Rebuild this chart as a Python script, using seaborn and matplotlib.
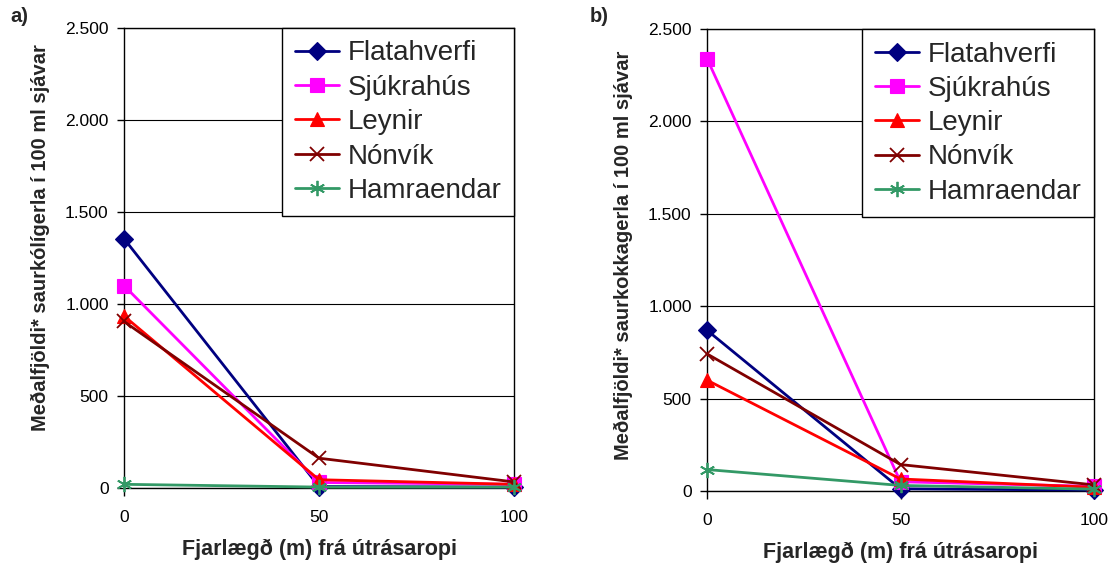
import matplotlib
matplotlib.use("Agg")
import matplotlib.pyplot as plt
import seaborn as sns
import pandas as pd
from matplotlib.ticker import FuncFormatter

sns.set_style("white")
plt.rcParams['font.family'] = ['Liberation Sans', 'DejaVu Sans']

distances = [0, 50, 100]
sites = ["Flatahverfi", "Sjúkrahús", "Leynir", "Nónvík", "Hamraendar"]

# panel a) saurkólígerlar
a_flatahverfi = [1355, 8, 5]
a_sjukrahus = [1100, 30, 20]
a_leynir = [935, 45, 20]
a_nonvik = [905, 162, 33]
a_hamraendar = [20, 5, 5]

# panel b) saurkokkagerlar
b_flatahverfi = [870, 12, 5]
b_sjukrahus = [2340, 50, 25]
b_leynir = [600, 65, 20]
b_nonvik = [742, 143, 33]
b_hamraendar = [116, 30, 10]

yticks = [0, 500, 1000, 1500, 2000, 2500]
xticks = [0, 50, 100]

colors = ["#000080", "#FF00FF", "#FF0000", "#800000", "#339966"]
markers = ["D", "s", "^", "x", (6, 2, 0)]
msizes = [9, 10.5, 10, 10, 11]

panels = [
    ("a)", "Meðalfjöldi* saurkólígerla í 100 ml sjávar",
     [a_flatahverfi, a_sjukrahus, a_leynir, a_nonvik, a_hamraendar]),
    ("b)", "Meðalfjöldi* saurkokkagerla í 100 ml sjávar",
     [b_flatahverfi, b_sjukrahus, b_leynir, b_nonvik, b_hamraendar]),
]

fig = plt.figure(figsize=(11.13, 5.67), dpi=100)
rects = [(124, 28, 514, 488), (707, 29, 1094, 491)]
W, H = 1113, 567
label_pos = [(10, 17), (590, 17)]
ylab_y = [0.545, 0.51]

for (tag, ylab, series), (x0, y0, x1, y1), (lx, ly), yly in zip(panels, rects, label_pos, ylab_y):
    ax = fig.add_axes([x0 / W, 1 - y1 / H, (x1 - x0) / W, (y1 - y0) / H])
    for name, vals, c, m, ms in zip(sites, series, colors, markers, msizes):
        df = pd.DataFrame({"x": distances, "y": vals})
        sns.lineplot(data=df, x="x", y="y", ax=ax, color=c, marker=m,
                     markersize=ms, markeredgecolor=c, markerfacecolor=c,
                     markeredgewidth=1.3 if m in ("x",) or isinstance(m, tuple) else 0.8,
                     linewidth=2.0, label=name, clip_on=False, zorder=3)
    ax.set_xlim(0, 100)
    ax.set_ylim(0, 2500)
    ax.set_xticks(xticks)
    ax.set_yticks(yticks)
    ax.yaxis.set_major_formatter(FuncFormatter(lambda v, p: f"{v:,.0f}".replace(",", ".")))
    ax.grid(axis="y", color="black", linewidth=0.8)
    ax.set_axisbelow(True)
    for sp in ax.spines.values():
        sp.set_color("black")
        sp.set_linewidth(1.0)
        sp.set_visible(True)
    ax.tick_params(axis="y", direction="out", length=5, width=1, pad=6, labelsize=12.5, colors="black", left=True)
    ax.tick_params(axis="x", direction="out", length=6, width=1, pad=10, labelsize=12.5, colors="black", bottom=True)
    ax.set_xlabel("Fjarlægð (m) frá útrásaropi", fontsize=15.5, fontweight="bold", labelpad=0)
    ax.xaxis.set_label_coords(0.5, -0.11)
    ax.set_ylabel(ylab, fontsize=14.5, fontweight="bold")
    ax.yaxis.set_label_coords(-0.19, yly)
    leg = ax.legend(loc="upper right", bbox_to_anchor=(1.0, 1.0), borderaxespad=0,
                    fontsize=20, frameon=True, fancybox=False, framealpha=1,
                    edgecolor="black", handlelength=1.6, handletextpad=0.3,
                    labelspacing=0.3, borderpad=0.45)
    leg.get_frame().set_linewidth(1.0)
    leg.set_zorder(5)
    fig.text(lx / W, 1 - ly / H, tag, fontsize=14.5, fontweight="bold", ha="left", va="center")

fig.savefig("out.png", dpi=100, facecolor="white")
